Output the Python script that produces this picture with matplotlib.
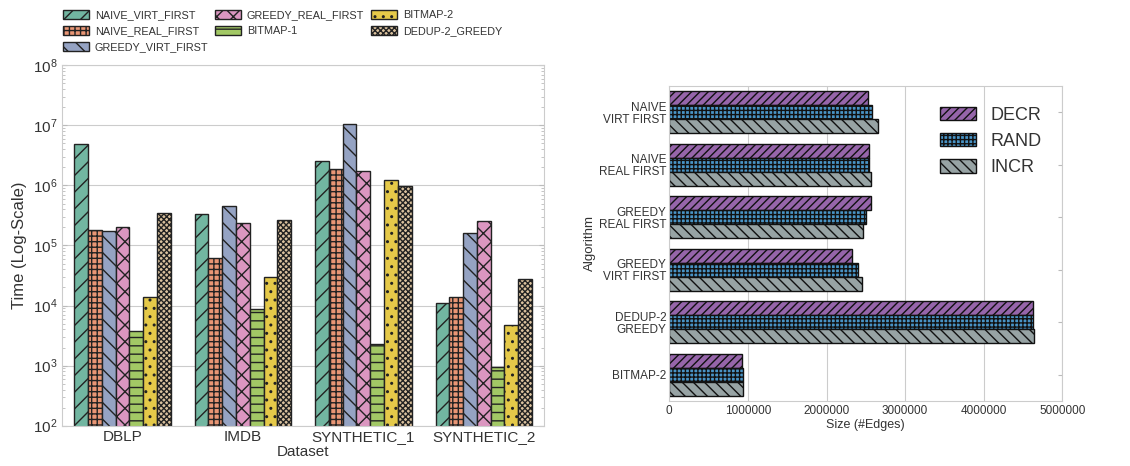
import numpy as np
import matplotlib
matplotlib.use("Agg")
import matplotlib.pyplot as plt
import seaborn as sns

sns.set_style("whitegrid")
plt.rcParams["font.family"] = ["Liberation Sans", "DejaVu Sans"]
plt.rcParams["mathtext.fontset"] = "custom"
plt.rcParams["mathtext.rm"] = "Liberation Sans"
plt.rcParams["hatch.linewidth"] = 1.0
plt.rcParams["text.color"] = "#333333"
plt.rcParams["axes.labelcolor"] = "#333333"
plt.rcParams["xtick.color"] = "#333333"
plt.rcParams["ytick.color"] = "#333333"

# running time per dataset (log scale)
datasets = ["DBLP", "IMDB", "SYNTHETIC_1", "SYNTHETIC_2"]
algos = ["NAIVE_VIRT_FIRST", "NAIVE_REAL_FIRST", "GREEDY_VIRT_FIRST",
         "GREEDY_REAL_FIRST", "BITMAP-1", "BITMAP-2", "DEDUP-2_GREEDY"]
naive_virt = [4.9e6, 3.3e5, 2.55e6, 1.09e4]
naive_real = [1.8e5, 6.1e4, 1.9e6, 1.38e4]
greedy_virt = [1.73e5, 4.6e5, 1.05e7, 1.63e5]
greedy_real = [2.05e5, 2.33e5, 1.73e6, 2.54e5]
bitmap1 = [3.7e3, 8.7e3, 2.27e3, 9.5e2]
bitmap2 = [1.4e4, 3.0e4, 1.21e6, 4.7e3]
dedup2 = [3.46e5, 2.68e5, 9.8e5, 2.75e4]

# compressed graph size per ordering
size_algos = ["NAIVE\nVIRT FIRST", "NAIVE\nREAL FIRST", "GREEDY\nREAL FIRST",
              "GREEDY\nVIRT FIRST", "DEDUP-2\nGREEDY", "BITMAP-2"]
orders = ["DECR", "RAND", "INCR"]
decr = [2532000, 2540000, 2561000, 2324000, 4631000, 925000]
rand = [2583000, 2540000, 2502000, 2396000, 4631000, 937000]
incr = [2651000, 2566000, 2460000, 2456000, 4635000, 937000]

# seaborn-like muted fills
left_colors = [sns.desaturate(c, 0.75) for c in sns.color_palette("Set2", 7)]
left_hatches = ["//", "+++", "\\\\", "xx", "--", "..", "xxxxxx"]
right_colors = [sns.desaturate(c, 0.75) for c in ["#9b59b6", "#3498db", "#95a5a6"]]
right_hatches = ["////", "++++", "\\\\\\"]

fig = plt.figure(figsize=(11.3, 4.66), dpi=100)
ax1 = fig.add_axes([0.0551, 0.0865, 0.4263, 0.7734])
ax2 = fig.add_axes([0.5923, 0.1395, 0.3478, 0.676])

# left: grouped bars
series = [naive_virt, naive_real, greedy_virt, greedy_real, bitmap1, bitmap2, dedup2]
x = np.arange(len(datasets))
w = 0.8 / len(series)
for i, vals in enumerate(series):
    ax1.bar(x - 0.4 + w * (i + 0.5), vals, w, color=left_colors[i],
            hatch=left_hatches[i], edgecolor="#222222", linewidth=1.0,
            label=algos[i])
ax1.set_yscale("log")
ax1.set_ylim(1e2, 1e8)
ax1.set_xlim(-0.5, 3.5)
ax1.set_xticks(x)
ax1.set_xticklabels(datasets, fontsize=11)
ax1.tick_params(axis="y", labelsize=11)
ax1.set_xlabel("Dataset", fontsize=11, labelpad=1)
ax1.set_ylabel("Time (Log-Scale)", fontsize=12)
ax1.grid(axis="x", visible=False)
ax1.tick_params(axis="y", which="both", direction="in", left=True, right=True,
                color="#bbbbbb")
ax1.tick_params(axis="y", which="minor", length=2)
ax1.tick_params(axis="x", length=0, pad=3)
fig.legend(*ax1.get_legend_handles_labels(), loc="upper left",
           bbox_to_anchor=(0.047, 1.0), ncol=3, frameon=False, fontsize=7.8,
           handlelength=2.4, handleheight=0.9, labelspacing=0.55,
           columnspacing=0.6, handletextpad=0.55)

# right: horizontal grouped bars
y = np.arange(len(size_algos))
h = 0.8 / 3
for i, vals in enumerate([decr, rand, incr]):
    ax2.barh(y - 0.4 + h * (i + 0.5), vals, h, color=right_colors[i],
             hatch=right_hatches[i], edgecolor="#111111", linewidth=1.0,
             label=orders[i])
ax2.set_ylim(5.5, -0.5)
ax2.set_xlim(0, 5000000)
ax2.set_yticks(y)
ax2.set_yticklabels(size_algos, fontsize=8.5, linespacing=1.0)
ax2.set_xticks([0, 1000000, 2000000, 3000000, 4000000, 5000000])
ax2.set_xticklabels(["0", "1000000", "2000000", "3000000", "4000000", "5000000"],
                    fontsize=8.5)
ax2.set_xlabel("Size (#Edges)", fontsize=9, labelpad=1)
ax2.set_ylabel("Algorithm", fontsize=9.5, labelpad=2)
ax2.grid(axis="y", visible=False)
ax2.tick_params(axis="y", direction="in", left=False, right=True, length=3,
                color="#bbbbbb", pad=2)
ax2.tick_params(axis="x", length=0, pad=3)
ax2.legend(loc="upper right", frameon=False, fontsize=13, handlelength=2.0,
           handleheight=0.78, labelspacing=0.5, borderaxespad=0.75,
           handletextpad=0.8)

plt.savefig("out.png", dpi=100)
